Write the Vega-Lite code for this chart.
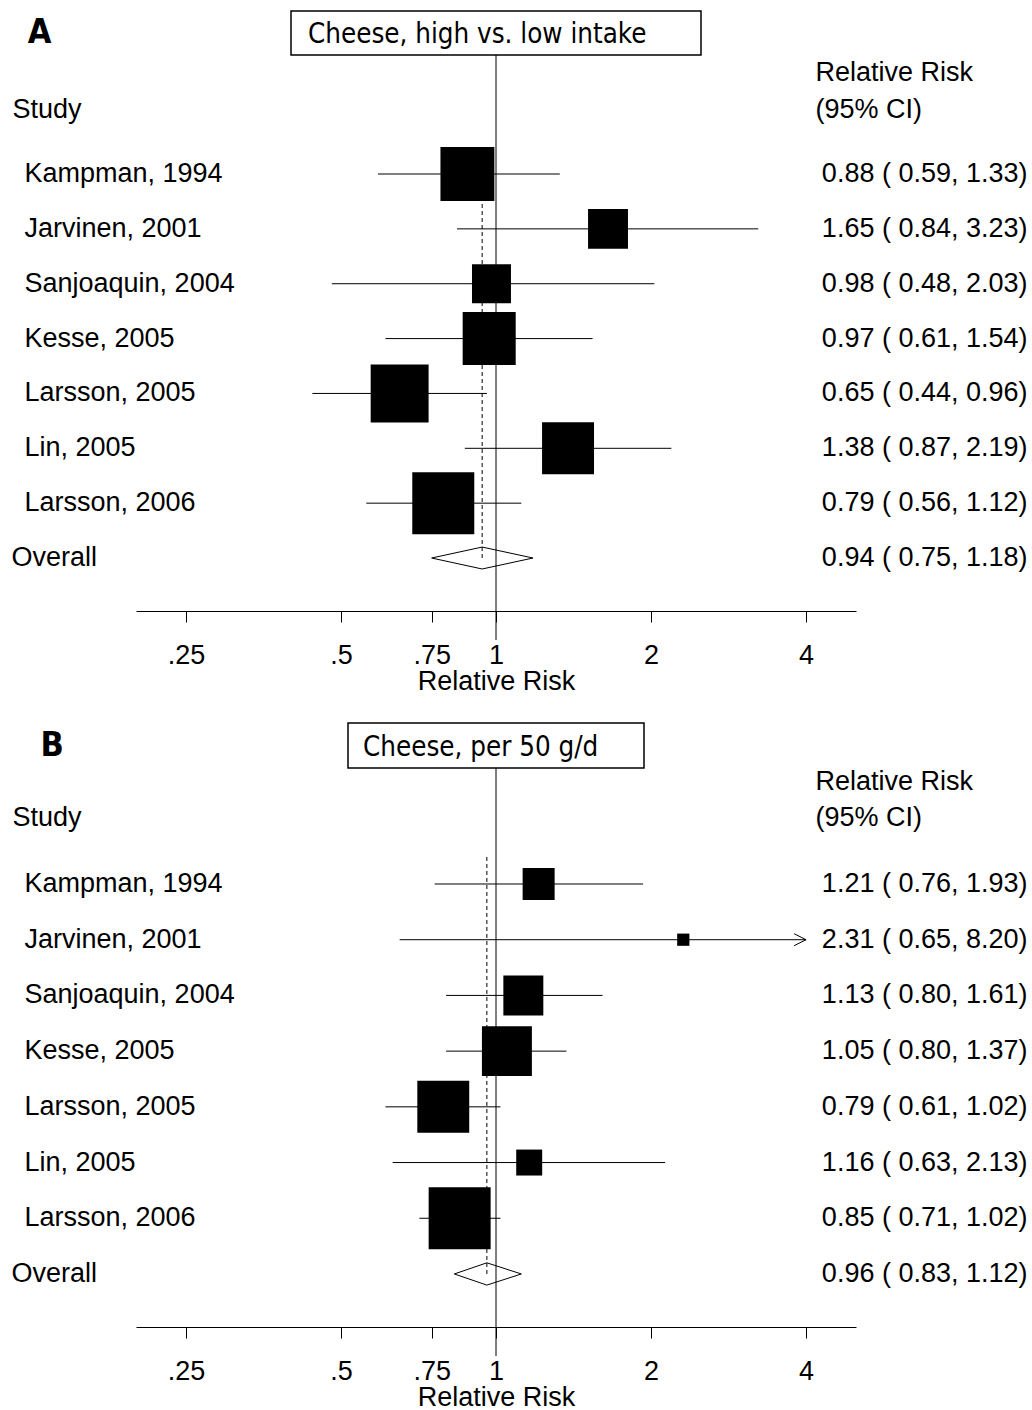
{
  "$schema": "https://vega.github.io/schema/vega-lite/v6.json",
  "background": "white",
  "padding": {"left": 11, "top": 10, "right": 5, "bottom": 4},
  "config": {
    "view": {"stroke": null},
    "font": "Liberation Sans",
    "axis": {"labelFont": "Liberation Sans", "titleFont": "Liberation Sans", "labelFontSize": 27, "titleFontSize": 27, "titleFontWeight": "normal", "labelColor": "black", "titleColor": "black", "labelLimit": 0, "titleLimit": 0, "grid": false}
  },
  "datasets": {
    "rows": [
      {"panel": "A", "order": 1, "study": "Kampman, 1994", "est": 0.88, "lo": 0.59, "hi": 1.33, "weight": 15.5, "ci": "0.88 ( 0.59, 1.33)"},
      {"panel": "A", "order": 2, "study": "Jarvinen, 2001", "est": 1.65, "lo": 0.84, "hi": 3.23, "weight": 8.5, "ci": "1.65 ( 0.84, 3.23)"},
      {"panel": "A", "order": 3, "study": "Sanjoaquin, 2004", "est": 0.98, "lo": 0.48, "hi": 2.03, "weight": 8.1, "ci": "0.98 ( 0.48, 2.03)"},
      {"panel": "A", "order": 4, "study": "Kesse, 2005", "est": 0.97, "lo": 0.61, "hi": 1.54, "weight": 15.0, "ci": "0.97 ( 0.61, 1.54)"},
      {"panel": "A", "order": 5, "study": "Larsson, 2005", "est": 0.65, "lo": 0.44, "hi": 0.96, "weight": 17.9, "ci": "0.65 ( 0.44, 0.96)"},
      {"panel": "A", "order": 6, "study": "Lin, 2005", "est": 1.38, "lo": 0.87, "hi": 2.19, "weight": 14.4, "ci": "1.38 ( 0.87, 2.19)"},
      {"panel": "A", "order": 7, "study": "Larsson, 2006", "est": 0.79, "lo": 0.56, "hi": 1.12, "weight": 20.5, "ci": "0.79 ( 0.56, 1.12)"},
      {"panel": "A", "order": 8, "study": "Overall", "est": 0.94, "lo": 0.75, "hi": 1.18, "weight": null, "ci": "0.94 ( 0.75, 1.18)"},
      {"panel": "B", "order": 1, "study": "Kampman, 1994", "est": 1.21, "lo": 0.76, "hi": 1.93, "weight": 8.2, "ci": "1.21 ( 0.76, 1.93)"},
      {"panel": "B", "order": 2, "study": "Jarvinen, 2001", "est": 2.31, "lo": 0.65, "hi": 8.20, "weight": 1.2, "ci": "2.31 ( 0.65, 8.20)"},
      {"panel": "B", "order": 3, "study": "Sanjoaquin, 2004", "est": 1.13, "lo": 0.80, "hi": 1.61, "weight": 12.8, "ci": "1.13 ( 0.80, 1.61)"},
      {"panel": "B", "order": 4, "study": "Kesse, 2005", "est": 1.05, "lo": 0.80, "hi": 1.37, "weight": 20.0, "ci": "1.05 ( 0.80, 1.37)"},
      {"panel": "B", "order": 5, "study": "Larsson, 2005", "est": 0.79, "lo": 0.61, "hi": 1.02, "weight": 21.6, "ci": "0.79 ( 0.61, 1.02)"},
      {"panel": "B", "order": 6, "study": "Lin, 2005", "est": 1.16, "lo": 0.63, "hi": 2.13, "weight": 5.4, "ci": "1.16 ( 0.63, 2.13)"},
      {"panel": "B", "order": 7, "study": "Larsson, 2006", "est": 0.85, "lo": 0.71, "hi": 1.02, "weight": 30.8, "ci": "0.85 ( 0.71, 1.02)"},
      {"panel": "B", "order": 8, "study": "Overall", "est": 0.96, "lo": 0.83, "hi": 1.12, "weight": null, "ci": "0.96 ( 0.83, 1.12)"}
    ]
  },
  "resolve": {"scale": {"size": "independent"}},
  "spacing": 28,
  "vconcat": [
    {
      "vconcat": [
        {
          "width": 410, "height": 44,
          "view": {"stroke": "black", "strokeWidth": 1.5},
          "title": {"text": "A", "orient": "left", "anchor": "middle", "angle": 0, "align": "right", "baseline": "middle", "offset": 216, "font": "DejaVu Sans Condensed, DejaVu Sans", "fontSize": 34, "fontWeight": "bold", "color": "black"},
          "data": {"values": [{"label": "Cheese, high vs. low intake"}]},
          "mark": {"type": "text", "align": "left", "baseline": "middle", "dx": -188, "dy": 2, "font": "DejaVu Sans Condensed, DejaVu Sans", "fontSize": 27.5, "color": "black"},
          "encoding": {"text": {"field": "label"}}
        },
        {
          "width": 720, "height": 585,
          "data": {"name": "rows"},
          "transform": [{"filter": "datum.panel === 'A'"}, {"calculate": "min(datum.hi, 4)", "as": "hi_draw"}],
          "resolve": {"scale": {"y": "independent"}, "axis": {"y": "independent"}},
          "layer": [
            {
              "transform": [{"filter": "datum.study === 'Overall'"}],
              "mark": {"type": "rule", "color": "black", "strokeWidth": 1},
              "encoding": {
                "x": {"datum": 1, "type": "quantitative", "scale": {"type": "log", "domain": [0.2, 5], "nice": false},
                  "axis": {"title": "Relative Risk", "values": [0.25, 0.5, 0.75, 1, 2, 4], "labelExpr": "replace(toString(datum.value), '0.', '.')", "offset": -29, "tickSize": 11, "tickColor": "black", "tickWidth": 1, "domainColor": "black", "domainWidth": 1, "labelPadding": 20, "titlePadding": 0, "labelOverlap": false, "labelFlush": false}}
              }
            },
            {
              "layer": [
                {
                  "transform": [{"joinaggregate": [{"op": "argmin", "field": "order", "as": "first"}]}, {"filter": "datum.study === 'Overall'"}],
                  "mark": {"type": "rule", "color": "black", "strokeWidth": 1, "strokeDash": [4, 3]},
                  "encoding": {
                    "x": {"field": "est", "type": "quantitative", "scale": {"type": "log", "domain": [0.2, 5], "nice": false}},
                    "y": {"field": "study", "type": "nominal", "sort": {"field": "order", "op": "min"}, "scale": {"type": "band", "paddingInner": 0, "paddingOuter": 0, "range": [91.57, 530.45]}, "bandPosition": 0.5,
                      "axis": {"orient": "left", "title": "Study", "titleAngle": 0, "titleAlign": "left", "titleBaseline": "middle", "titleX": -124, "titleY": 54, "domain": false, "ticks": false, "tickSize": 0, "labelAlign": "left", "labelPadding": {"condition": {"test": "datum.value === 'Overall'", "value": 125}, "value": 112}}},
                    "y2": {"field": "first.study", "bandPosition": 0}
                  }
                },
                {
                  "transform": [{"filter": "datum.study !== 'Overall'"}],
                  "mark": {"type": "rule", "color": "black", "strokeWidth": 1},
                  "encoding": {
                    "x": {"field": "lo", "type": "quantitative", "scale": {"type": "log", "domain": [0.2, 5], "nice": false}},
                    "x2": {"field": "hi_draw"},
                    "y": {"field": "study", "type": "nominal", "sort": {"field": "order", "op": "min"}, "scale": {"type": "band", "paddingInner": 0, "paddingOuter": 0, "range": [91.57, 530.45]}, "bandPosition": 0.5}
                  }
                },
                {
                  "transform": [{"filter": "datum.study !== 'Overall'"}],
                  "mark": {"type": "point", "shape": "square", "filled": true, "color": "black", "opacity": 1, "strokeWidth": 0},
                  "encoding": {
                    "x": {"field": "est", "type": "quantitative", "scale": {"type": "log", "domain": [0.2, 5], "nice": false}},
                    "y": {"field": "study", "type": "nominal", "sort": {"field": "order", "op": "min"}, "scale": {"type": "band", "paddingInner": 0, "paddingOuter": 0, "range": [91.57, 530.45]}, "bandPosition": 0.5},
                    "size": {"field": "weight", "type": "quantitative", "scale": {"zero": true, "range": [0, 3844]}, "legend": null}
                  }
                },
                {
                  "transform": [{"filter": "datum.hi > 4"}],
                  "mark": {"type": "point", "shape": "M-1,-0.5L0,0L-1,0.5", "filled": false, "color": "black", "opacity": 1, "strokeWidth": 1, "size": 576},
                  "encoding": {
                    "x": {"field": "hi_draw", "type": "quantitative", "scale": {"type": "log", "domain": [0.2, 5], "nice": false}},
                    "y": {"field": "study", "type": "nominal", "sort": {"field": "order", "op": "min"}, "scale": {"type": "band", "paddingInner": 0, "paddingOuter": 0, "range": [91.57, 530.45]}, "bandPosition": 0.5}
                  }
                },
                {
                  "transform": [{"filter": "datum.study === 'Overall'"}],
                  "mark": {"type": "rule", "color": "black", "strokeWidth": 1},
                  "encoding": {
                    "x": {"field": "lo", "type": "quantitative", "scale": {"type": "log", "domain": [0.2, 5], "nice": false}},
                    "x2": {"field": "est"},
                    "y": {"field": "study", "type": "nominal", "sort": {"field": "order", "op": "min"}, "scale": {"type": "band", "paddingInner": 0, "paddingOuter": 0, "range": [91.57, 530.45]}, "bandPosition": 0.5},
                    "y2": {"field": "study", "bandPosition": 0.3}
                  }
                },
                {
                  "transform": [{"filter": "datum.study === 'Overall'"}],
                  "mark": {"type": "rule", "color": "black", "strokeWidth": 1},
                  "encoding": {
                    "x": {"field": "est", "type": "quantitative", "scale": {"type": "log", "domain": [0.2, 5], "nice": false}},
                    "x2": {"field": "hi"},
                    "y": {"field": "study", "type": "nominal", "sort": {"field": "order", "op": "min"}, "scale": {"type": "band", "paddingInner": 0, "paddingOuter": 0, "range": [91.57, 530.45]}, "bandPosition": 0.3},
                    "y2": {"field": "study", "bandPosition": 0.5}
                  }
                },
                {
                  "transform": [{"filter": "datum.study === 'Overall'"}],
                  "mark": {"type": "rule", "color": "black", "strokeWidth": 1},
                  "encoding": {
                    "x": {"field": "lo", "type": "quantitative", "scale": {"type": "log", "domain": [0.2, 5], "nice": false}},
                    "x2": {"field": "est"},
                    "y": {"field": "study", "type": "nominal", "sort": {"field": "order", "op": "min"}, "scale": {"type": "band", "paddingInner": 0, "paddingOuter": 0, "range": [91.57, 530.45]}, "bandPosition": 0.5},
                    "y2": {"field": "study", "bandPosition": 0.7}
                  }
                },
                {
                  "transform": [{"filter": "datum.study === 'Overall'"}],
                  "mark": {"type": "rule", "color": "black", "strokeWidth": 1},
                  "encoding": {
                    "x": {"field": "est", "type": "quantitative", "scale": {"type": "log", "domain": [0.2, 5], "nice": false}},
                    "x2": {"field": "hi"},
                    "y": {"field": "study", "type": "nominal", "sort": {"field": "order", "op": "min"}, "scale": {"type": "band", "paddingInner": 0, "paddingOuter": 0, "range": [91.57, 530.45]}, "bandPosition": 0.7},
                    "y2": {"field": "study", "bandPosition": 0.5}
                  }
                }
              ]
            },
            {
              "mark": {"type": "point", "opacity": 0},
              "encoding": {
                "y": {"field": "ci", "type": "nominal", "sort": {"field": "order", "op": "min"}, "scale": {"type": "band", "paddingInner": 0, "paddingOuter": 0, "range": [91.57, 530.45]},
                  "axis": {"orient": "right", "title": ["Relative Risk", "(95% CI)"], "titleAngle": 0, "titleAlign": "left", "titleBaseline": "middle", "titleX": -41, "titleY": 17, "titleLineHeight": 37, "domain": false, "ticks": false, "tickSize": 0, "labelAlign": "right", "labelPadding": 171}}
              }
            }
          ]
        }
      ],
      "spacing": 0,
      "center": true,
      "bounds": "flush"
    },
    {
      "vconcat": [
        {
          "width": 296, "height": 45,
          "view": {"stroke": "black", "strokeWidth": 1.5},
          "title": {"text": "B", "orient": "left", "anchor": "middle", "angle": 0, "align": "right", "baseline": "middle", "offset": 261, "font": "DejaVu Sans Condensed, DejaVu Sans", "fontSize": 34, "fontWeight": "bold", "color": "black"},
          "data": {"values": [{"label": "Cheese, per 50 g/d"}]},
          "mark": {"type": "text", "align": "left", "baseline": "middle", "dx": -133, "dy": 2, "font": "DejaVu Sans Condensed, DejaVu Sans", "fontSize": 27.5, "color": "black"},
          "encoding": {"text": {"field": "label"}}
        },
        {
          "width": 720, "height": 588,
          "data": {"name": "rows"},
          "transform": [{"filter": "datum.panel === 'B'"}, {"calculate": "min(datum.hi, 4)", "as": "hi_draw"}],
          "resolve": {"scale": {"y": "independent"}, "axis": {"y": "independent"}},
          "layer": [
            {
              "transform": [{"filter": "datum.study === 'Overall'"}],
              "mark": {"type": "rule", "color": "black", "strokeWidth": 1},
              "encoding": {
                "x": {"datum": 1, "type": "quantitative", "scale": {"type": "log", "domain": [0.2, 5], "nice": false},
                  "axis": {"title": "Relative Risk", "values": [0.25, 0.5, 0.75, 1, 2, 4], "labelExpr": "replace(toString(datum.value), '0.', '.')", "offset": -29, "tickSize": 11, "tickColor": "black", "tickWidth": 1, "domainColor": "black", "domainWidth": 1, "labelPadding": 20, "titlePadding": 0, "labelOverlap": false, "labelFlush": false}}
              }
            },
            {
              "layer": [
                {
                  "transform": [{"joinaggregate": [{"op": "argmin", "field": "order", "as": "first"}]}, {"filter": "datum.study === 'Overall'"}],
                  "mark": {"type": "rule", "color": "black", "strokeWidth": 1, "strokeDash": [4, 3]},
                  "encoding": {
                    "x": {"field": "est", "type": "quantitative", "scale": {"type": "log", "domain": [0.2, 5], "nice": false}},
                    "y": {"field": "study", "type": "nominal", "sort": {"field": "order", "op": "min"}, "scale": {"type": "band", "paddingInner": 0, "paddingOuter": 0, "range": [88.14, 533.82]}, "bandPosition": 0.5,
                      "axis": {"orient": "left", "title": "Study", "titleAngle": 0, "titleAlign": "left", "titleBaseline": "middle", "titleX": -124, "titleY": 49, "domain": false, "ticks": false, "tickSize": 0, "labelAlign": "left", "labelPadding": {"condition": {"test": "datum.value === 'Overall'", "value": 125}, "value": 112}}},
                    "y2": {"field": "first.study", "bandPosition": 0}
                  }
                },
                {
                  "transform": [{"filter": "datum.study !== 'Overall'"}],
                  "mark": {"type": "rule", "color": "black", "strokeWidth": 1},
                  "encoding": {
                    "x": {"field": "lo", "type": "quantitative", "scale": {"type": "log", "domain": [0.2, 5], "nice": false}},
                    "x2": {"field": "hi_draw"},
                    "y": {"field": "study", "type": "nominal", "sort": {"field": "order", "op": "min"}, "scale": {"type": "band", "paddingInner": 0, "paddingOuter": 0, "range": [88.14, 533.82]}, "bandPosition": 0.5}
                  }
                },
                {
                  "transform": [{"filter": "datum.study !== 'Overall'"}],
                  "mark": {"type": "point", "shape": "square", "filled": true, "color": "black", "opacity": 1, "strokeWidth": 0},
                  "encoding": {
                    "x": {"field": "est", "type": "quantitative", "scale": {"type": "log", "domain": [0.2, 5], "nice": false}},
                    "y": {"field": "study", "type": "nominal", "sort": {"field": "order", "op": "min"}, "scale": {"type": "band", "paddingInner": 0, "paddingOuter": 0, "range": [88.14, 533.82]}, "bandPosition": 0.5},
                    "size": {"field": "weight", "type": "quantitative", "scale": {"zero": true, "range": [0, 3844]}, "legend": null}
                  }
                },
                {
                  "transform": [{"filter": "datum.hi > 4"}],
                  "mark": {"type": "point", "shape": "M-1,-0.5L0,0L-1,0.5", "filled": false, "color": "black", "opacity": 1, "strokeWidth": 1, "size": 576},
                  "encoding": {
                    "x": {"field": "hi_draw", "type": "quantitative", "scale": {"type": "log", "domain": [0.2, 5], "nice": false}},
                    "y": {"field": "study", "type": "nominal", "sort": {"field": "order", "op": "min"}, "scale": {"type": "band", "paddingInner": 0, "paddingOuter": 0, "range": [88.14, 533.82]}, "bandPosition": 0.5}
                  }
                },
                {
                  "transform": [{"filter": "datum.study === 'Overall'"}],
                  "mark": {"type": "rule", "color": "black", "strokeWidth": 1},
                  "encoding": {
                    "x": {"field": "lo", "type": "quantitative", "scale": {"type": "log", "domain": [0.2, 5], "nice": false}},
                    "x2": {"field": "est"},
                    "y": {"field": "study", "type": "nominal", "sort": {"field": "order", "op": "min"}, "scale": {"type": "band", "paddingInner": 0, "paddingOuter": 0, "range": [88.14, 533.82]}, "bandPosition": 0.5},
                    "y2": {"field": "study", "bandPosition": 0.3}
                  }
                },
                {
                  "transform": [{"filter": "datum.study === 'Overall'"}],
                  "mark": {"type": "rule", "color": "black", "strokeWidth": 1},
                  "encoding": {
                    "x": {"field": "est", "type": "quantitative", "scale": {"type": "log", "domain": [0.2, 5], "nice": false}},
                    "x2": {"field": "hi"},
                    "y": {"field": "study", "type": "nominal", "sort": {"field": "order", "op": "min"}, "scale": {"type": "band", "paddingInner": 0, "paddingOuter": 0, "range": [88.14, 533.82]}, "bandPosition": 0.3},
                    "y2": {"field": "study", "bandPosition": 0.5}
                  }
                },
                {
                  "transform": [{"filter": "datum.study === 'Overall'"}],
                  "mark": {"type": "rule", "color": "black", "strokeWidth": 1},
                  "encoding": {
                    "x": {"field": "lo", "type": "quantitative", "scale": {"type": "log", "domain": [0.2, 5], "nice": false}},
                    "x2": {"field": "est"},
                    "y": {"field": "study", "type": "nominal", "sort": {"field": "order", "op": "min"}, "scale": {"type": "band", "paddingInner": 0, "paddingOuter": 0, "range": [88.14, 533.82]}, "bandPosition": 0.5},
                    "y2": {"field": "study", "bandPosition": 0.7}
                  }
                },
                {
                  "transform": [{"filter": "datum.study === 'Overall'"}],
                  "mark": {"type": "rule", "color": "black", "strokeWidth": 1},
                  "encoding": {
                    "x": {"field": "est", "type": "quantitative", "scale": {"type": "log", "domain": [0.2, 5], "nice": false}},
                    "x2": {"field": "hi"},
                    "y": {"field": "study", "type": "nominal", "sort": {"field": "order", "op": "min"}, "scale": {"type": "band", "paddingInner": 0, "paddingOuter": 0, "range": [88.14, 533.82]}, "bandPosition": 0.7},
                    "y2": {"field": "study", "bandPosition": 0.5}
                  }
                }
              ]
            },
            {
              "mark": {"type": "point", "opacity": 0},
              "encoding": {
                "y": {"field": "ci", "type": "nominal", "sort": {"field": "order", "op": "min"}, "scale": {"type": "band", "paddingInner": 0, "paddingOuter": 0, "range": [88.14, 533.82]},
                  "axis": {"orient": "right", "title": ["Relative Risk", "(95% CI)"], "titleAngle": 0, "titleAlign": "left", "titleBaseline": "middle", "titleX": -41, "titleY": 13, "titleLineHeight": 36, "domain": false, "ticks": false, "tickSize": 0, "labelAlign": "right", "labelPadding": 171}}
              }
            }
          ]
        }
      ],
      "spacing": 0,
      "center": true,
      "bounds": "flush"
    }
  ]
}
